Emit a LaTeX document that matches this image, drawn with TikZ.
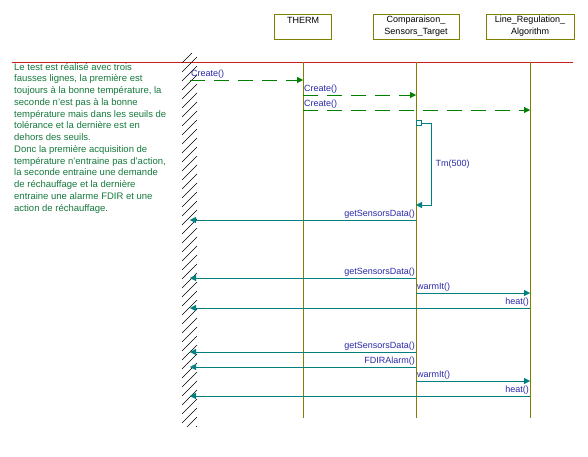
\documentclass[tikz,border=0pt]{standalone}
\usepackage{fontspec}
\setmainfont{Liberation Sans}
\usetikzlibrary{arrows.meta,positioning,calc}

\definecolor{lifeolive}{RGB}{128,128,0}
\definecolor{msggreen}{RGB}{0,128,0}
\definecolor{msgteal}{RGB}{0,128,128}
\definecolor{lblblue}{RGB}{40,40,170}
\definecolor{notegreen}{RGB}{20,120,60}
\definecolor{seprred}{RGB}{200,30,30}

\begin{document}
\begin{tikzpicture}[
    x=1pt, y=-1pt,
    >={Triangle[length=6pt,width=6pt]},
    every node/.style={font=\fontsize{9}{12}\selectfont},
    obj/.style={draw=lifeolive, align=center, minimum height=25pt, inner sep=1pt},
    life/.style={draw=lifeolive},
    create/.style={->, draw=msggreen, dash pattern=on 15pt off 9pt},
    msg/.style={->, draw=msgteal},
    lbl/.style={text=lblblue, inner sep=1pt}
  ]
    \useasboundingbox (0,0) rectangle (588,456);

    % objects
    \node[obj, minimum width=57pt] (therm) at (303,26.5) {THERM\\\mbox{}};
    \node[obj, minimum width=86pt] (cmp)   at (416,26.5) {Comparaison\_\\Sensors\_Target};
    \node[obj, minimum width=88pt] (reg)   at (530,26.5) {Line\_Regulation\_\\Algorithm};

    % separator and lifelines
    \coordinate (top) at (0,62);
    \coordinate (bot) at (0,418);
    \coordinate (env) at (190,0);
    \draw[seprred] (12,62) -- (573,62);
    \draw[life] (therm |- top) -- (therm |- bot);
    \draw[life] (cmp |- top) -- (cmp |- bot);
    \draw[life] (reg |- top) -- (reg |- bot);

    % environment boundary
    \begin{scope}
      \clip (181,53) rectangle (197,426);
      \foreach \y in {48,57,...,440}
        \draw[line width=0.4pt] (182,\y+15) -- (197,\y);
    \end{scope}

    % note
    \node[anchor=north west, inner sep=0pt, align=left, text=notegreen,
          font=\fontsize{9.5}{11.75}\selectfont] (note) at (14,63)
      {Le test est réalisé avec trois\\
       fausses lignes, la première est\\
       toujours à la bonne température, la\\
       seconde n'est pas à la bonne\\
       température mais dans les seuils de\\
       tolérance et la dernière est en\\
       dehors des seuils.\\
       Donc la première acquisition de\\
       température n'entraine pas d'action,\\
       la seconde entraine une demande\\
       de réchauffage et la dernière\\
       entraine une alarme FDIR et une\\
       action de réchauffage.};

    % message rows
    \coordinate (r1) at (0,80);
    \coordinate (r2) at (0,95);
    \coordinate (r3) at (0,110);
    \coordinate (tmA) at (0,123);
    \coordinate (tmB) at (0,205);
    \coordinate (r5) at (0,220);
    \coordinate (r6) at (0,278);
    \coordinate (r7) at (0,293);
    \coordinate (r8) at (0,308);
    \coordinate (r9) at (0,352);
    \coordinate (r10) at (0,367);
    \coordinate (r11) at (0,381);
    \coordinate (r12) at (0,396);

    % creation
    \draw[create] (env |- r1) node[lbl, above right] {Create()} -- (therm |- r1);
    \draw[create] (therm |- r2) node[lbl, above right] {Create()} -- (cmp |- r2);
    \draw[create] (therm |- r3) node[lbl, above right] {Create()} -- (reg |- r3);

    % timer
    \node[draw=msgteal, minimum size=5pt, inner sep=0pt, anchor=west] (act) at (cmp |- tmA) {};
    \draw[msg] (act.east) -- ++(10,0) |- (cmp |- tmB)
      node[pos=0.25, lbl, right=3pt] {Tm(500)};

    % cycles
    \draw[msg] (cmp |- r5) node[lbl, above left] {getSensorsData()} -- (env |- r5);
    \draw[msg] (cmp |- r6) node[lbl, above left] {getSensorsData()} -- (env |- r6);
    \draw[msg] (cmp |- r7) node[lbl, above right] {warmIt()} -- (reg |- r7);
    \draw[msg] (reg |- r8) node[lbl, above left] {heat()} -- (env |- r8);
    \draw[msg] (cmp |- r9) node[lbl, above left] {getSensorsData()} -- (env |- r9);
    \draw[msg] (cmp |- r10) node[lbl, above left] {FDIRAlarm()} -- (env |- r10);
    \draw[msg] (cmp |- r11) node[lbl, above right] {warmIt()} -- (reg |- r11);
    \draw[msg] (reg |- r12) node[lbl, above left] {heat()} -- (env |- r12);

  \end{tikzpicture}
\end{document}
